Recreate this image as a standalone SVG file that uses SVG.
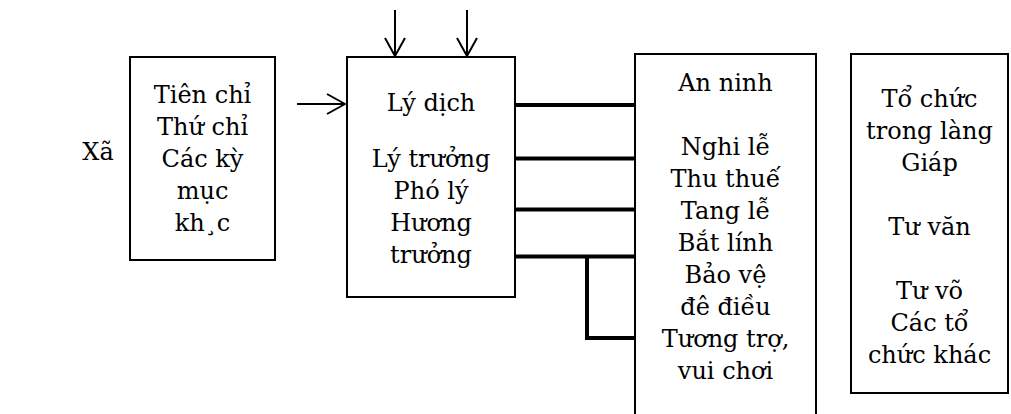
<svg xmlns="http://www.w3.org/2000/svg" width="1011" height="414" viewBox="0 0 1011 414">
  <style>
    .box { fill: #fff; stroke: #000; stroke-width: 2; }
    .lbl { font-family: "DejaVu Serif", "Liberation Serif", serif; font-size: 24px; fill: #000; text-anchor: middle; }
    .arrow { fill: none; stroke: #000; stroke-width: 2; marker-end: url(#open); }
    .link { fill: none; stroke: #000; stroke-width: 4; }
  </style>
  <defs>
    <marker id="open" viewBox="0 0 20 22" refX="19" refY="11" markerWidth="20" markerHeight="22" markerUnits="userSpaceOnUse" orient="auto">
      <path d="M1,1 L19,11 L1,21" fill="none" stroke="#000" stroke-width="2"/>
    </marker>
  </defs>
  <rect width="1011" height="414" fill="#fff"/>

  <!-- level label -->
  <g id="xa">
    <text class="lbl" x="98" y="160">Xã</text>
  </g>

  <!-- village notables -->
  <g id="notables">
    <rect class="box" x="130" y="57" width="145" height="203"/>
    <text class="lbl" x="202.5" y="103">Tiên chỉ</text>
    <text class="lbl" x="202.5" y="135">Thứ chỉ</text>
    <text class="lbl" x="202.5" y="167">Các kỳ</text>
    <text class="lbl" x="202.5" y="199">mục</text>
    <text class="lbl" x="202.5" y="231">kh¸c</text>
  </g>

  <!-- village officials -->
  <g id="ly-dich">
    <rect class="box" x="347" y="57" width="168" height="240"/>
    <text class="lbl" x="431" y="111">Lý dịch</text>
    <text class="lbl" x="431" y="167">Lý trưởng</text>
    <text class="lbl" x="431" y="199">Phó lý</text>
    <text class="lbl" x="431" y="231">Hương</text>
    <text class="lbl" x="431" y="263">trưởng</text>
  </g>

  <!-- duties -->
  <g id="duties">
    <rect class="box" x="635" y="54" width="181" height="370"/>
    <text class="lbl" x="725.5" y="91">An ninh</text>
    <text class="lbl" x="725.5" y="155">Nghi lễ</text>
    <text class="lbl" x="725.5" y="187">Thu thuế</text>
    <text class="lbl" x="725.5" y="219">Tang lễ</text>
    <text class="lbl" x="725.5" y="251">Bắt lính</text>
    <text class="lbl" x="725.5" y="283">Bảo vệ</text>
    <text class="lbl" x="725.5" y="315">đê điều</text>
    <text class="lbl" x="725.5" y="347">Tương trợ,</text>
    <text class="lbl" x="725.5" y="379">vui chơi</text>
  </g>

  <!-- organisations in the village -->
  <g id="organisations">
    <rect class="box" x="851" y="54" width="157" height="339"/>
    <text class="lbl" x="929.5" y="107">Tổ chức</text>
    <text class="lbl" x="929.5" y="139">trong làng</text>
    <text class="lbl" x="929.5" y="171">Giáp</text>
    <text class="lbl" x="929.5" y="235">Tư văn</text>
    <text class="lbl" x="929.5" y="299">Tư võ</text>
    <text class="lbl" x="929.5" y="331">Các tổ</text>
    <text class="lbl" x="929.5" y="363">chức khác</text>
  </g>

  <g id="connectors">
    <line class="arrow" x1="395" y1="10" x2="395" y2="56"/>
    <line class="arrow" x1="467" y1="10" x2="467" y2="56"/>
    <line class="arrow" x1="297" y1="104" x2="345" y2="104"/>
    <line class="link" x1="515" y1="105" x2="635" y2="105"/>
    <line class="link" x1="515" y1="158.5" x2="635" y2="158.5"/>
    <line class="link" x1="515" y1="209.5" x2="635" y2="209.5"/>
    <line class="link" x1="515" y1="256.5" x2="635" y2="256.5"/>
    <path class="link" d="M587,255 V338 H635"/>
  </g>
</svg>
